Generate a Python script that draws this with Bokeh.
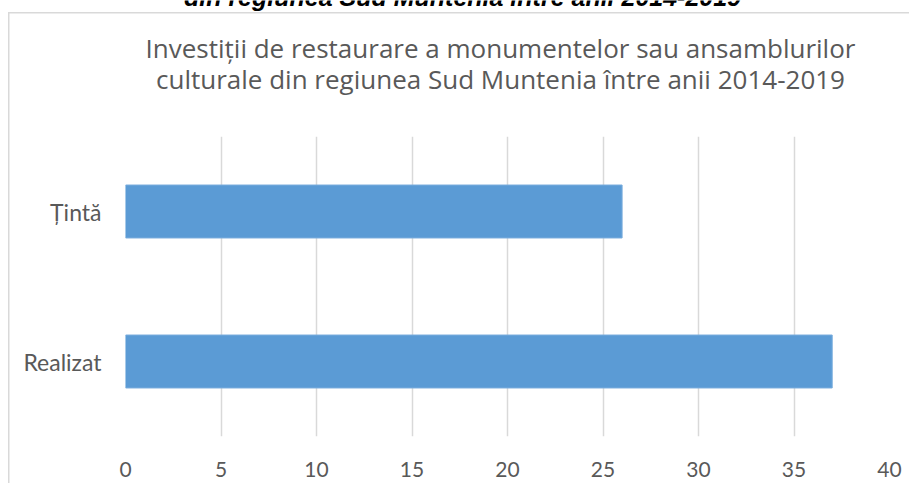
from bokeh.plotting import figure
from bokeh.layouts import column
from bokeh.models import FixedTicker, Range1d
from bokeh.core.properties import value
from bokeh.embed import file_html
from bokeh.resources import INLINE

categories = ["Realizat", "Țintă"]
values = [37, 26]
x_ticks = [0, 5, 10, 15, 20, 25, 30, 35, 40]
title_lines = ["Investiții de restaurare a monumentelor sau ansamblurilor",
               "culturale din regiunea Sud Muntenia între anii 2014-2019"]
cut_text = "din regiunea Sud Muntenia între anii 2014-2019"

TXT = "#595959"
GRID = "#d9d9d9"
W = 909

BORDER_CSS_HEAD = {
    "background-color": "white",
    "background-image": "linear-gradient(#d9d9d9, #d9d9d9), linear-gradient(#d9d9d9, #d9d9d9)",
    "background-size": "100% 1.5px, 1.5px 100%",
    "background-position": "7.5px 11.5px, 7.5px 11.5px",
    "background-repeat": "no-repeat",
}
BORDER_CSS_MAIN = {
    "background-color": "white",
    "background-image": "linear-gradient(#d9d9d9, #d9d9d9)",
    "background-size": "1.5px 100%",
    "background-position": "7.5px 0px",
    "background-repeat": "no-repeat",
}

# ---------- header (title area); its frame is aligned with the chart frame ----------
head = figure(width=W, height=136, output_backend="svg", toolbar_location=None,
              x_range=Range1d(125, 889), y_range=Range1d(136, 0),
              x_axis_location=None, y_axis_location=None,
              min_border=0)
head.outline_line_color = None
head.grid.visible = False
head.background_fill_alpha = 0
head.border_fill_alpha = 0
head.styles = BORDER_CSS_HEAD

head.text(x=[462], y=[-4], text=[cut_text], text_align="center",
          text_baseline="alphabetic", text_font=value("Liberation Sans"),
          text_font_style="bold italic", text_font_size="25px", text_color="black")
head.text(x=[500, 500], y=[47, 78], text=title_lines, text_align="center",
          text_baseline="alphabetic", text_font=value("Open Sans"),
          text_font_size="26px", text_color=TXT)

# ---------- main chart ----------
positions = [i + 0.5 for i in range(len(categories))]

p = figure(width=W, height=347, output_backend="svg", toolbar_location=None,
           y_range=Range1d(0, len(categories)),
           x_range=Range1d(0, 40),
           min_border_left=125, min_border_right=20, min_border_top=0, min_border_bottom=47)
p.outline_line_color = None
p.background_fill_color = "white"
p.border_fill_alpha = 0
p.styles = BORDER_CSS_MAIN

p.hbar(y=positions, right=values, left=0, height=0.353,
       fill_color="#5B9BD5", line_color="#79ADDD", line_width=1)

p.xaxis.ticker = FixedTicker(ticks=x_ticks)
p.xaxis.axis_line_color = None
p.xaxis.major_tick_line_color = None
p.xaxis.minor_tick_line_color = None
p.xaxis.major_label_text_font = "Lato"
p.xaxis.major_label_text_font_size = "21px"
p.xaxis.major_label_text_color = TXT
p.xaxis.major_label_standoff = 19

p.yaxis.ticker = FixedTicker(ticks=positions)
p.yaxis.major_label_overrides = {pos: cat for pos, cat in zip(positions, categories)}
p.yaxis.axis_line_color = None
p.yaxis.major_tick_line_color = None
p.yaxis.minor_tick_line_color = None
p.yaxis.major_label_text_font = "Lato"
p.yaxis.major_label_text_font_size = "23px"
p.yaxis.major_label_text_color = TXT
p.yaxis.major_label_standoff = 18

p.xgrid.grid_line_color = GRID
p.xgrid.grid_line_width = 1.5
p.ygrid.grid_line_color = None

layout = column(head, p, spacing=0)
open("out.html", "w").write(file_html(layout, INLINE))
